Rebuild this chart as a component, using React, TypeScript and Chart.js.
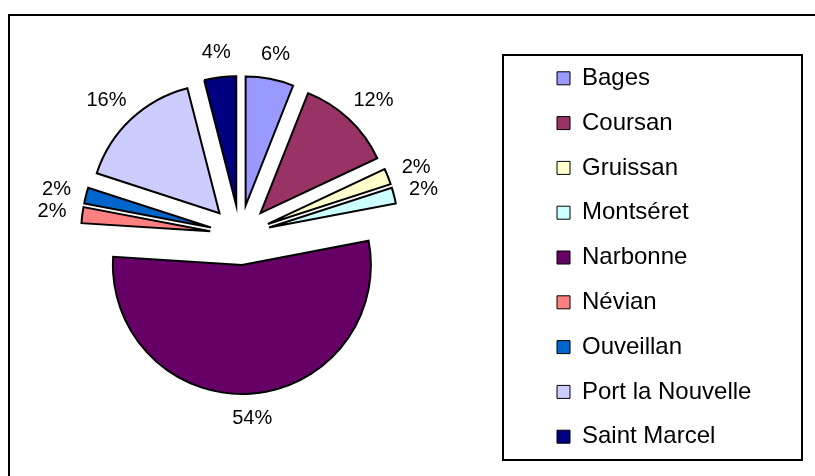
import React, { useEffect, useRef } from "react";
import { Chart, registerables, DoughnutController } from "chart.js";

Chart.register(...registerables);

// ---- data ----
const communes = [
  "Bages",
  "Coursan",
  "Gruissan",
  "Montséret",
  "Narbonne",
  "Névian",
  "Ouveillan",
  "Port la Nouvelle",
  "Saint Marcel",
];
const shares = [6, 12, 2, 2, 54, 2, 2, 16, 4];
const sliceColors = [
  "#9999FF",
  "#993366",
  "#FFFFCC",
  "#CCFFFF",
  "#660066",
  "#FF8080",
  "#0066CC",
  "#CCCCFF",
  "#000080",
];

// ---- styling / layout ----
const FONT = "'Liberation Sans', Arial, Helvetica, sans-serif";
const EXPLODE = 30;
const RADIUS = 129;
const LABEL_GAP = 16;
const LABEL_FONT = 20;
const LEGEND_BOX = { x: 503, y: 55, w: 299, h: 405 };
const LEGEND_FONT = 24;
const LEGEND_PAD = 20.8;
const LEGEND_MARK_X = 557;
const LEGEND_FIRST_TOP = 66.3;

const framePlugin = {
  id: "frames",
  beforeDraw(chart: any) {
    const ctx = chart.ctx;
    ctx.save();
    ctx.fillStyle = "#fff";
    ctx.fillRect(0, 0, chart.width, chart.height);
    ctx.strokeStyle = "#000";
    ctx.lineWidth = 2;
    ctx.strokeRect(9, 15, chart.width + 50, chart.height + 50);
    ctx.fillStyle = "#fff";
    ctx.fillRect(LEGEND_BOX.x, LEGEND_BOX.y, LEGEND_BOX.w, LEGEND_BOX.h);
    ctx.strokeRect(LEGEND_BOX.x, LEGEND_BOX.y, LEGEND_BOX.w, LEGEND_BOX.h);
    ctx.restore();
  },
  afterUpdate(chart: any) {
    const lg = chart.legend;
    if (!lg) return;
    lg.left = LEGEND_MARK_X - LEGEND_PAD;
    lg.top = LEGEND_FIRST_TOP - LEGEND_PAD;
    lg.right = LEGEND_BOX.x + LEGEND_BOX.w;
    lg.bottom = chart.height;
    lg.width = lg.right - lg.left;
    lg.height = lg.bottom - lg.top;
  },
};

const explodePlugin = {
  id: "explode",
  afterDatasetsUpdate(chart: any) {
    const meta = chart.getDatasetMeta(0);
    meta.data.forEach((arc: any) => {
      const mid = (arc.startAngle + arc.endAngle) / 2;
      arc.x += Math.cos(mid) * EXPLODE;
      arc.y += Math.sin(mid) * EXPLODE;
    });
  },
};

const labelPlugin = {
  id: "sliceLabels",
  afterDatasetsDraw(chart: any) {
    const ctx = chart.ctx;
    const values: number[] = chart.data.datasets[0].data;
    const total = values.reduce((a, b) => a + b, 0);
    ctx.save();
    ctx.font = `${LABEL_FONT}px ${FONT}`;
    ctx.fillStyle = "#000";
    ctx.textAlign = "center";
    ctx.textBaseline = "middle";
    chart.getDatasetMeta(0).data.forEach((arc: any, i: number) => {
      const { x, y, startAngle, endAngle, outerRadius } = arc.getProps(
        ["x", "y", "startAngle", "endAngle", "outerRadius"],
        true
      );
      const mid = (startAngle + endAngle) / 2;
      const ux = Math.cos(mid);
      const uy = Math.sin(mid);
      const text = Math.round((values[i] / total) * 100) + "%";
      const w = ctx.measureText(text).width;
      const h = LABEL_FONT * 0.9;
      const d = outerRadius + LABEL_GAP;
      ctx.fillText(text, x + d * ux + (ux * w) / 2, y + d * uy + (uy * h) / 2);
    });
    ctx.restore();
  },
};

export default function App() {
  const ref = useRef<HTMLCanvasElement>(null);

  useEffect(() => {
    if (!ref.current) return;
    const baseGen = (DoughnutController as any).overrides.plugins.legend.labels
      .generateLabels;
    const chart = new Chart(ref.current, {
      type: "pie",
      data: {
        labels: communes,
        datasets: [
          {
            data: shares,
            backgroundColor: sliceColors,
            borderColor: "#000",
            borderWidth: 2,
            borderJoinStyle: "miter",
          } as any,
        ],
      },
      options: {
        responsive: false,
        animation: false,
        events: [],
        radius: RADIUS,
        layout: { padding: { left: 5, right: 340, top: 5, bottom: 11 } },
        plugins: {
          tooltip: { enabled: false },
          legend: {
            display: true,
            position: "chartArea",
            align: "start",
            labels: {
              color: "#000",
              font: { family: FONT, size: LEGEND_FONT },
              boxWidth: 13,
              boxHeight: 13,
              padding: LEGEND_PAD,
              generateLabels: (chart: any) =>
                baseGen(chart).map((l: any) => ({
                  ...l,
                  lineWidth: 1,
                  strokeStyle: "#000",
                })),
            },
          },
        },
      } as any,
      plugins: [framePlugin, explodePlugin, labelPlugin],
    });
    return () => chart.destroy();
  }, []);

  return (
    <div
      style={{
        position: "fixed",
        left: 0,
        top: 0,
        width: 815,
        height: 476,
        background: "#fff",
        overflow: "hidden",
      }}
    >
      <canvas ref={ref} width={815} height={476} style={{ display: "block" }} />
    </div>
  );
}
